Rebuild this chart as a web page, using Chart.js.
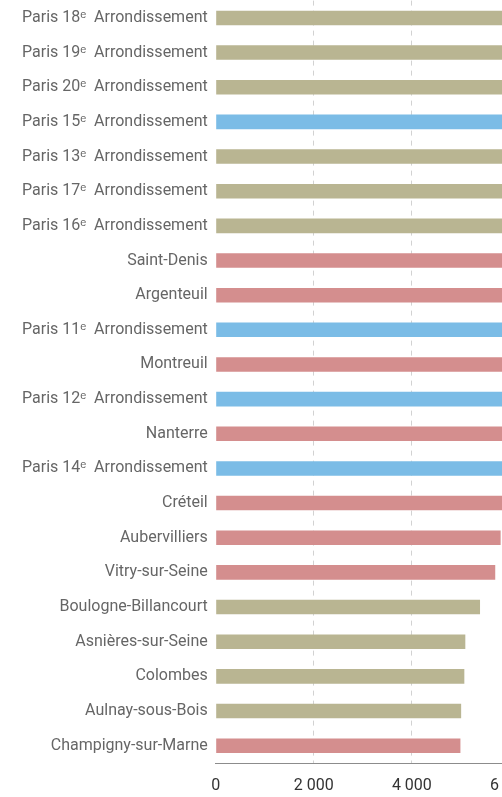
<!DOCTYPE html>
<html>
<head>
<meta charset="utf-8">
<script src="https://cdn.jsdelivr.net/npm/chart.js@4"></script>
<style>
    html, body { margin: 0; padding: 0; background: #fff; overflow: hidden; }
    /* shifted up so the plot starts at the page top (y labels add top padding) */
    #wrap { position: relative; width: 641px; height: 814px; margin-top: -17px; }
</style>
</head>
<body>
<div id="wrap"><canvas id="barChart"></canvas></div>
<script>
// Communes (top to bottom)
const labels = [
    "Paris 18ᵉ  Arrondissement",
    "Paris 19ᵉ  Arrondissement",
    "Paris 20ᵉ  Arrondissement",
    "Paris 15ᵉ  Arrondissement",
    "Paris 13ᵉ  Arrondissement",
    "Paris 17ᵉ  Arrondissement",
    "Paris 16ᵉ  Arrondissement",
    "Saint-Denis",
    "Argenteuil",
    "Paris 11ᵉ  Arrondissement",
    "Montreuil",
    "Paris 12ᵉ  Arrondissement",
    "Nanterre",
    "Paris 14ᵉ  Arrondissement",
    "Créteil",
    "Aubervilliers",
    "Vitry-sur-Seine",
    "Boulogne-Billancourt",
    "Asnières-sur-Seine",
    "Colombes",
    "Aulnay-sous-Bois",
    "Champigny-sur-Marne"
];

// values (bars above Créteil run past the visible edge, estimated)
const values = [
    9500, 9000, 8700, 8400, 8000, 7600, 7300, 7000, 6700, 6550, 6400,
    6250, 6150, 6050, 5950, 5810, 5700, 5390, 5090, 5070, 5005, 4990
];

// group of each commune: a = Paris (gold), b = Paris (blue), c = banlieue (pink)
const groups = [
    "a", "a", "a", "b", "a", "a", "a", "c", "c", "b", "c",
    "b", "c", "b", "c", "c", "c", "a", "a", "a", "a", "c"
];

const xTicks = [0, 2000, 4000, 6000, 8000];

const groupColors = { a: "#b9b592", b: "#7bbce6", c: "#d48e8e" };

function fmt(v) {
    return String(v).replace(/\B(?=(\d{3})+(?!\d))/g, " ");
}

const FONT = "Roboto, 'Liberation Sans', sans-serif";

new Chart(document.getElementById("barChart").getContext("2d"), {
    type: "bar",
    data: {
        labels: labels,
        datasets: [{
            data: values,
            backgroundColor: groups.map(g => groupColors[g]),
            borderWidth: 0,
            categoryPercentage: 1,
            barPercentage: 0.42
        }]
    },
    options: {
        indexAxis: "y",
        responsive: true,
        maintainAspectRatio: false,
        animation: false,
        layout: { padding: 0 },
        plugins: {
            legend: { display: false },
            tooltip: { enabled: false }
        },
        scales: {
            x: {
                min: xTicks[0],
                max: xTicks[xTicks.length - 1],
                afterBuildTicks: (scale) => {
                    scale.ticks = xTicks.map(v => ({ value: v }));
                },
                afterFit: (scale) => { scale.height = 34; },
                grid: {
                    drawTicks: false,
                    color: (ctx) => ctx.tick && ctx.tick.value === 0 ? "rgba(0,0,0,0)" : "#d2d2d2",
                    lineWidth: 1
                },
                border: { display: true, color: "#8c8c8c", width: 1, dash: [5, 5] },
                ticks: {
                    padding: 13,
                    color: "#333",
                    font: { family: FONT, size: 16 },
                    callback: (v) => fmt(v)
                }
            },
            y: {
                afterFit: (scale) => { scale.width = 215.7; },
                grid: { display: false, drawTicks: false },
                border: { display: false },
                ticks: {
                    padding: 8,
                    color: "#666",
                    font: { family: FONT, size: 16 }
                }
            }
        }
    }
});
</script>
</body>
</html>
